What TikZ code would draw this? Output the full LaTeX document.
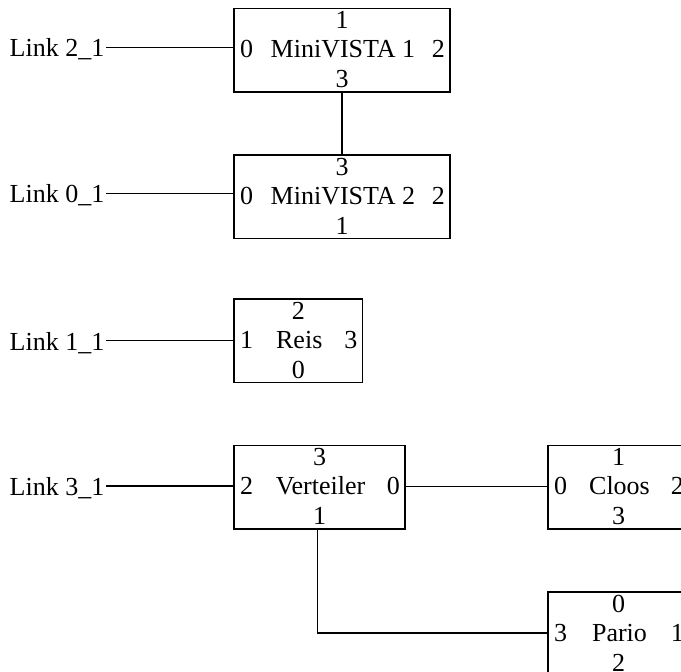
\documentclass[tikz,border=0pt]{standalone}
\usepackage{fontspec}
\setmainfont{Liberation Serif}
\tikzset{
  box/.style={draw, line width=1.3pt, anchor=north west, inner sep=0pt, outer sep=0pt, minimum height=83.5pt},
  txt/.style={font=\fontsize{26}{30}\selectfont, inner sep=0pt, anchor=base},
  lbl/.style={font=\fontsize{26}{30}\selectfont, inner ysep=0pt, inner xsep=1.5pt, anchor=base east},
  wire/.style={line width=1.3pt}
}
\newcommand{\pbox}[9]{%
  \node[box, minimum width={(#4-#2)*1pt}] (#1) at (#2,{-#3}) {};
  \node[txt] (#1t) at ({(#2+#4)/2},{-#3-20}) {#5};
  \node[txt, anchor=base west] (#1l) at ({#2+6},{-#3-49}) {#6};
  \node[txt] (#1n) at ({(#2+#4)/2+1},{-#3-49}) {#7};
  \node[txt, anchor=base east] (#1r) at ({#4-5},{-#3-49}) {#8};
  \node[txt] (#1b) at ({(#2+#4)/2},{-#3-79}) {#9};
}
\begin{document}
\begin{tikzpicture}[x=1pt,y=1pt]
\clip (0,0) rectangle (681,-672);
\useasboundingbox (0,0) rectangle (681,-672);
\pbox{mva}{234}{8.5}{450}{1}{0}{MiniVISTA 1}{2}{3}
\pbox{mvb}{234}{155}{450}{3}{0}{MiniVISTA 2}{2}{1}
\pbox{reis}{234}{299}{362.5}{2}{1}{Reis}{3}{0}
\pbox{ver}{234}{445.5}{405}{3}{2}{Verteiler}{0}{1}
\pbox{clo}{548}{445.5}{689}{1}{0}{Cloos}{2}{3}
\pbox{par}{548}{592}{689}{0}{3}{Pario}{1}{2}
% link labels
\node[lbl] (l21) at (106,-56.7) {Link 2\_1};
\node[lbl] (l01) at (106,-202.5) {Link 0\_1};
\node[lbl] (l11) at (106,-350) {Link 1\_1};
\node[lbl] (l31) at (106,-495) {Link 3\_1};
% port coordinates
\coordinate (mvain) at (234,-47.5);
\coordinate (mvbin) at (234,-193.3);
\coordinate (reisin) at (234,-340.7);
\coordinate (verin) at (234,-486);
\coordinate (verout) at (405,-486.7);
\coordinate (verbot) at (317.5,-529.5);
\coordinate (parin) at (548,-633);
% connectors
\draw[wire] (l21.east |- mvain) -- (mvain);
\draw[wire] (l01.east |- mvbin) -- (mvbin);
\draw[wire] (l11.east |- reisin) -- (reisin);
\draw[wire] (l31.east |- verin) -- (verin);
\draw[wire] (mva.south) -- (mvb.north);
\draw[wire] (verout) -- (verout -| clo.west);
\draw[wire] (verbot) |- (parin);
\end{tikzpicture}
\end{document}
